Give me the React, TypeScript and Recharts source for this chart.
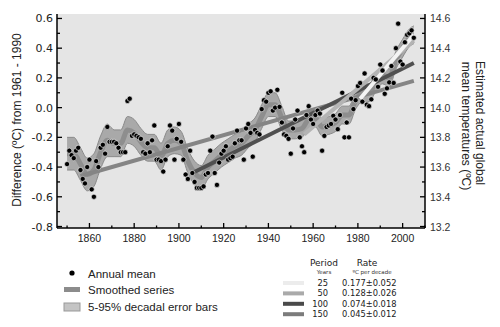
import { ComposedChart, Scatter, Line, Area, XAxis, YAxis, CartesianGrid } from 'recharts';

// annual global mean anomalies, one per year starting 1850
const firstYear = 1850;
const annualMean = [
  -0.38, -0.29, -0.32, -0.34, -0.29, -0.27, -0.42, -0.48, -0.51, -0.40,
  -0.35, -0.55, -0.60, -0.36, -0.40, -0.27, -0.25, -0.31, -0.13, -0.23,
  -0.23, -0.23, -0.24, -0.27, -0.30, -0.30, -0.30, 0.045, 0.06, -0.19,
  -0.18, -0.19, -0.20, -0.21, -0.30, -0.31, -0.24, -0.30, -0.22, -0.12,
  -0.35, -0.35, -0.36, -0.43, -0.35, -0.26, -0.12, -0.155, -0.35, -0.21,
  -0.11, -0.23, -0.35, -0.45, -0.48, -0.29, -0.44, -0.50, -0.54, -0.54,
  -0.54, -0.53, -0.45, -0.44, -0.29, -0.195, -0.44, -0.52, -0.37, -0.31,
  -0.29, -0.26, -0.35, -0.34, -0.33, -0.24, -0.155, -0.22, -0.22, -0.35,
  -0.14, -0.11, -0.17, -0.33, -0.15, -0.17, -0.18, -0.01, 0.05, 0.04,
  0.10, 0.11, -0.02, 0.00, 0.12, 0.005, -0.10, -0.18, -0.19, -0.21,
  -0.31, -0.14, -0.08, -0.02, -0.20, -0.26, -0.30, -0.05, 0.01, -0.08,
  -0.11, -0.05, -0.02, -0.04, -0.29, -0.19, -0.13, -0.12, -0.11, -0.055,
  -0.08, -0.145, -0.05, 0.10, -0.20, -0.10, -0.20, 0.06, -0.01, 0.05,
  0.145, 0.166, 0.04, 0.23, 0.02, 0.01, 0.056, 0.20, 0.19, 0.14,
  0.29, 0.25, 0.093, 0.13, 0.17, 0.28, 0.166, 0.40, 0.565, 0.31,
  0.29, 0.44, 0.49, 0.50, 0.52, 0.47,
];

// decadal smoothed series and 5-95% half widths
const smoothYears = [
  1850, 1853, 1856, 1859, 1862, 1865, 1868, 1871, 1874, 1877, 1880, 1883, 1886, 1889,
  1892, 1895, 1898, 1901, 1904, 1907, 1910, 1913, 1916, 1919, 1922, 1925, 1928, 1931,
  1934, 1937, 1940, 1943, 1946, 1949, 1952, 1955, 1958, 1961, 1964, 1967, 1970, 1973,
  1976, 1979, 1982, 1985, 1988, 1991, 1994, 1997, 2000, 2003, 2005,
];
const smoothed = [
  -0.31, -0.31, -0.38, -0.45, -0.42, -0.30, -0.22, -0.24, -0.24, -0.15, -0.17, -0.23, -0.27, -0.27,
  -0.33, -0.24, -0.22, -0.24, -0.36, -0.44, -0.47, -0.40, -0.36, -0.32, -0.29, -0.26, -0.24, -0.19,
  -0.15, -0.06, 0.02, 0.02, -0.07, -0.15, -0.15, -0.14, -0.08, -0.07, -0.13, -0.12, -0.10, -0.05,
  -0.05, 0.05, 0.10, 0.10, 0.17, 0.22, 0.20, 0.32, 0.40, 0.47, 0.49,
];
const errHalf = [
  0.11, 0.11, 0.11, 0.11, 0.11, 0.11, 0.11, 0.09, 0.09, 0.09, 0.09, 0.09, 0.09, 0.09,
  0.09, 0.09, 0.09, 0.08, 0.08, 0.08, 0.08, 0.08, 0.08, 0.08, 0.08, 0.08, 0.08, 0.08,
  0.08, 0.08, 0.08, 0.08, 0.08, 0.06, 0.06, 0.06, 0.06, 0.06, 0.06, 0.06, 0.06, 0.06,
  0.06, 0.06, 0.06, 0.06, 0.06, 0.06, 0.06, 0.06, 0.06, 0.06, 0.06,
];

// linear trends: period, start/end year, start/end value, colour, rate label
const trendPeriods = [25, 50, 100, 150];
const trendStart = [1981, 1956, 1906, 1856];
const trendEnd = [2005, 2005, 2005, 2005];
const trendFrom = [0.06, -0.18, -0.44, -0.46];
const trendTo = [0.49, 0.45, 0.30, 0.18];
const trendColors = ['#f4f4f4', '#b4b4b4', '#505050', '#858585'];
const trendSwatch = ['#ececec', '#aaaaaa', '#4a4a4a', '#7c7c7c'];
const trendRates = ['0.177±0.052', '0.128±0.026', '0.074±0.018', '0.045±0.012'];

const xTicks = [1850, 1860, 1870, 1880, 1890, 1900, 1910, 1920, 1930, 1940, 1950, 1960, 1970, 1980, 1990, 2000, 2010];
const leftTicks = [-0.8, -0.7, -0.6, -0.5, -0.4, -0.3, -0.2, -0.1, 0, 0.1, 0.2, 0.3, 0.4, 0.5, 0.6];
const rightTicks = [13.2, 13.3, 13.4, 13.5, 13.6, 13.7, 13.8, 13.9, 14.0, 14.1, 14.2, 14.3, 14.4, 14.5, 14.6];

const annualData = annualMean.map((v, i) => ({ year: firstYear + i, value: v }));
const smoothData = smoothYears.map((y, i) => ({
  year: y,
  smooth: smoothed[i],
  band: [smoothed[i] - errHalf[i], smoothed[i] + errHalf[i]],
}));
const trendData = trendPeriods.map((_, i) => [
  { year: trendStart[i], trend: trendFrom[i] },
  { year: trendEnd[i], trend: trendTo[i] },
]);

const SANS = 'Liberation Sans, Arial, sans-serif';
const DEJAVU = 'DejaVu Sans, Verdana, sans-serif';

function BottomTick(props: any) {
  const { x, y, payload } = props;
  const major = payload.value % 20 === 0 && payload.value < 2010;
  return (
    <g>
      <line x1={x} x2={x} y1={y} y2={y - (major ? 5 : 2.5)} stroke="#000" strokeWidth={1.3} />
      {major && (
        <text x={x} y={y + 14} textAnchor="middle" fontSize={10.5} fontFamily={SANS} fill="#222">
          {payload.value}
        </text>
      )}
    </g>
  );
}

function TopTick(props: any) {
  const { x, y, payload } = props;
  const major = payload.value % 20 === 0;
  return <line x1={x} x2={x} y1={y} y2={y + (major ? 5 : 2.5)} stroke="#000" strokeWidth={1.3} />;
}

function LeftTick(props: any) {
  const { x, y, payload } = props;
  const v = payload.value;
  const major = Math.round(v * 10) % 2 === 0;
  return (
    <g>
      <line x1={x} x2={x + (major ? 5 : 3)} y1={y} y2={y} stroke="#000" strokeWidth={1.3} />
      {major && (
        <text x={x - 4} y={y + 4} textAnchor="end" fontSize={11} fontFamily={DEJAVU} fill="#222">
          {v.toFixed(1)}
        </text>
      )}
    </g>
  );
}

function RightTick(props: any) {
  const { x, y, payload } = props;
  const v = payload.value;
  const major = Math.round(v * 10) % 2 === 0;
  return (
    <g>
      <line x1={x} x2={x - (major ? 5 : 3)} y1={y} y2={y} stroke="#000" strokeWidth={1.3} />
      {major && (
        <text x={x + 5} y={y + 4} textAnchor="start" fontSize={10.5} fontFamily={SANS} fill="#333">
          {v.toFixed(1)}
        </text>
      )}
    </g>
  );
}

const Dot = (props: any) => {
  const { cx, cy } = props;
  return <circle cx={cx} cy={cy} r={2.6} fill="#000" stroke="#fff" strokeWidth={0.6} />;
};

export default function App() {
  return (
    <div style={{ position: 'absolute', left: 0, top: 0, width: 500, height: 327, background: '#fff' }}>
      <ComposedChart width={500} height={327} margin={{ top: 14, right: 0, bottom: 0, left: 0 }}>
        <CartesianGrid horizontal={false} vertical={false} fill="#e5e5e5" stroke="none" />
        <XAxis
          type="number"
          dataKey="year"
          xAxisId={0}
          domain={[1845.5, 2010]}
          allowDataOverflow
          ticks={xTicks}
          interval={0}
          height={99}
          tickSize={0}
          tickMargin={0}
          tickLine={false}
          axisLine={{ stroke: '#000', strokeWidth: 1.5 }}
          tick={<BottomTick />}
        />
        <XAxis
          type="number"
          dataKey="year"
          xAxisId="top"
          orientation="top"
          domain={[1845.5, 2010]}
          allowDataOverflow
          ticks={xTicks}
          interval={0}
          height={0}
          tickSize={0}
          tickMargin={0}
          tickLine={false}
          axisLine={{ stroke: '#000', strokeWidth: 1.5 }}
          tick={<TopTick />}
        />
        <YAxis
          yAxisId={0}
          type="number"
          domain={[-0.81, 0.63]}
          allowDataOverflow
          ticks={leftTicks}
          interval={0}
          width={57}
          tickSize={0}
          tickMargin={0}
          tickLine={false}
          axisLine={{ stroke: '#000', strokeWidth: 1.5 }}
          tick={<LeftTick />}
        />
        <YAxis
          yAxisId="right"
          orientation="right"
          type="number"
          domain={[13.19, 14.63]}
          allowDataOverflow
          ticks={rightTicks}
          interval={0}
          width={75}
          tickSize={0}
          tickMargin={0}
          tickLine={false}
          axisLine={{ stroke: '#000', strokeWidth: 1.5 }}
          tick={<RightTick />}
        />
        <Area
          data={smoothData}
          dataKey="band"
          type="monotone"
          fill="#a9a9a9"
          fillOpacity={1}
          stroke="#8a8a8a"
          strokeWidth={1}
          isAnimationActive={false}
        />
        <Line
          data={smoothData}
          dataKey="smooth"
          type="monotone"
          stroke="#8e8e8e"
          strokeWidth={5}
          dot={false}
          isAnimationActive={false}
        />
        {trendData.slice().reverse().map((d, j) => {
          const i = trendData.length - 1 - j;
          return (
            <Line
              key={trendPeriods[i]}
              data={d}
              dataKey="trend"
              type="linear"
              stroke={trendColors[i]}
              strokeWidth={4}
              dot={false}
              isAnimationActive={false}
            />
          );
        })}
        <Scatter data={annualData} dataKey="value" shape={<Dot />} isAnimationActive={false} />
      </ComposedChart>

      <svg width={500} height={327} style={{ position: 'absolute', left: 0, top: 0, pointerEvents: 'none' }}>
        <text transform="translate(21,120) rotate(-90)" textAnchor="middle" fontSize={12} fontFamily={SANS} fill="#222">
          Difference (ºC) from 1961 - 1990
        </text>
        <text transform="translate(476,123) rotate(90)" textAnchor="middle" fontSize={12} fontFamily={SANS} fill="#222">
          Estimated actual global
        </text>
        <text transform="translate(462,126) rotate(90)" textAnchor="middle" fontSize={12} fontFamily={SANS} fill="#222">
          mean temperatures (ºC)
        </text>

        {/* left legend */}
        <circle cx={72} cy={273} r={2.6} fill="#000" />
        <text x={88} y={278} fontSize={11.5} fontFamily={SANS} fill="#222">Annual mean</text>
        <rect x={64} y={287} width={16} height={5} fill="#8c8c8c" />
        <text x={88} y={294} fontSize={11.5} fontFamily={SANS} fill="#222">Smoothed series</text>
        <rect x={64} y={303} width={16} height={8} fill="#c4c4c4" stroke="#999" strokeWidth={1} />
        <text x={88} y={311} fontSize={11.5} fontFamily={SANS} fill="#222">5-95% decadal error bars</text>

        {/* trend table */}
        <text x={324} y={266} textAnchor="middle" fontSize={9} fontFamily={DEJAVU} fill="#222">Period</text>
        <text x={367} y={266} textAnchor="middle" fontSize={9} fontFamily={DEJAVU} fill="#222">Rate</text>
        <text x={324} y={274} textAnchor="middle" fontSize={5.5} fontFamily={DEJAVU} fill="#333">Years</text>
        <text x={372} y={274} textAnchor="middle" fontSize={5.5} fontFamily={DEJAVU} fill="#333">ºC  per decade</text>
        {trendPeriods.map((p, i) => (
          <g key={p}>
            <rect x={283} y={281 + i * 10.4} width={21} height={4} fill={trendSwatch[i]} />
            <text x={328} y={286 + i * 10.4} textAnchor="end" fontSize={8.3} fontFamily={DEJAVU} fill="#222">{p}</text>
            <text x={342} y={286 + i * 10.4} fontSize={8.3} fontFamily={DEJAVU} fill="#222">{trendRates[i]}</text>
          </g>
        ))}
      </svg>
    </div>
  );
}
